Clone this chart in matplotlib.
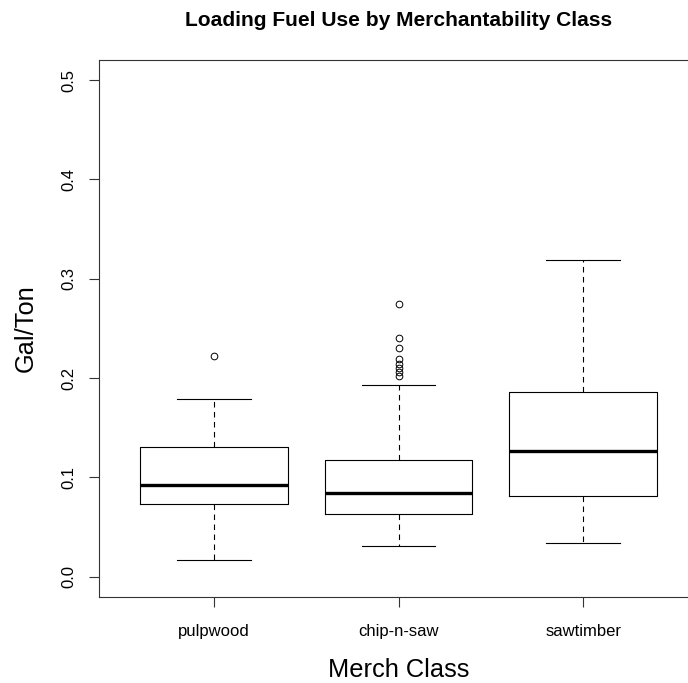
import matplotlib
matplotlib.use("Agg")
import matplotlib.pyplot as plt

plt.rcParams['font.family'] = ['Liberation Sans', 'DejaVu Sans']

# five-number summaries per merchantability class (gal/ton)
classes = ['pulpwood', 'chip-n-saw', 'sawtimber']
whislo = [0.0171, 0.0313, 0.0336]
q1 = [0.0733, 0.0628, 0.0817]
medians = [0.0924, 0.0847, 0.1267]
q3 = [0.1307, 0.1176, 0.1865]
whishi = [0.1787, 0.1929, 0.3190]
fliers = [
    [0.222],
    [0.275, 0.240, 0.230, 0.219, 0.214, 0.210, 0.206, 0.202],
    [],
]

stats = []
for i, name in enumerate(classes):
    stats.append(dict(label=name, whislo=whislo[i], q1=q1[i], med=medians[i],
                      q3=q3[i], whishi=whishi[i], fliers=fliers[i]))

fig = plt.figure(figsize=(6.88, 6.83), dpi=100)
# plot region runs past the right edge of the image
ax = fig.add_axes([99/688, 1 - 596.7/683, 599/688, 536.5/683])

lw = 0.8
ax.bxp(stats, positions=[1, 2, 3], widths=0.8, showfliers=True,
       boxprops=dict(color='black', linewidth=lw),
       medianprops=dict(color='black', linewidth=2.4, solid_capstyle='butt'),
       whiskerprops=dict(color='black', linewidth=lw, linestyle=(0, (5, 4))),
       capprops=dict(color='black', linewidth=lw),
       capwidths=0.4,
       flierprops=dict(marker='o', markerfacecolor='none', markeredgecolor='black',
                       markersize=4.8, markeredgewidth=0.7))

ax.set_xlim(0.38, 3.62)
ax.set_ylim(-0.02, 0.52)
ax.set_yticks([0.0, 0.1, 0.2, 0.3, 0.4, 0.5])
ax.set_yticklabels(['0.0', '0.1', '0.2', '0.3', '0.4', '0.5'], rotation=90, va='center')
ax.set_xticks([1, 2, 3])
ax.set_xticklabels(classes)
ax.tick_params(axis='both', labelsize=12, length=7, width=0.8, color='#333333')
ax.tick_params(axis='x', pad=13)
ax.tick_params(axis='y', pad=9)

for side in ['left', 'bottom', 'top']:
    ax.spines[side].set_linewidth(0.8)
    ax.spines[side].set_color('#333333')
ax.spines['right'].set_visible(False)

ax.set_xlabel('Merch Class', fontsize=18.3, labelpad=13)
ax.set_ylabel('Gal/Ton', fontsize=18.3, labelpad=17)
fig.text(398.5/688, 1 - 20.5/683, 'Loading Fuel Use by Merchantability Class',
         fontsize=15.1, fontweight='bold', ha='center', va='center')

fig.savefig('out.png', dpi=100)
